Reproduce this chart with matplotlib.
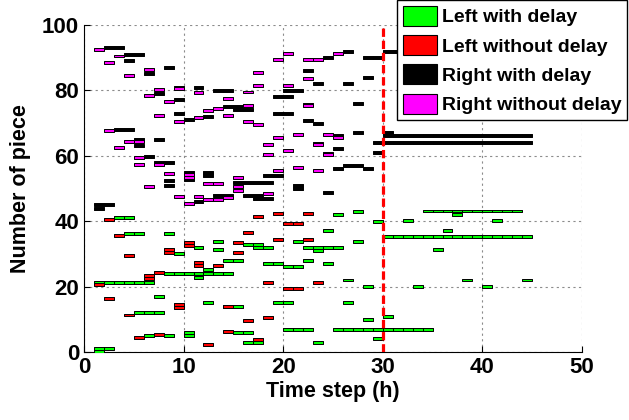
import matplotlib
matplotlib.use('Agg')
import matplotlib.pyplot as plt
from matplotlib.patches import Patch

plt.rcParams['font.family'] = ['Liberation Sans', 'DejaVu Sans']
plt.rcParams['font.weight'] = 'bold'

# each task: (start time, duration in steps, piece number)
left_delay = [
    (3, 2, 41.0), (4, 2, 36.1), (8, 1, 36.1), (25, 1, 41.9), (27, 1, 42.9), (29, 1, 40.0), (24, 1, 37.0),
    (11, 1, 32.0), (13, 1, 33.9), (13, 1, 31.2), (9, 1, 30.0), (12, 1, 25.1), (14, 2, 27.9), (8, 7, 24.1),
    (11, 1, 22.9), (1, 6, 21.2), (7, 1, 16.9), (12, 1, 15.0), (5, 3, 12.0), (6, 1, 4.9), (8, 1, 4.9),
    (10, 1, 6.0), (10, 1, 4.9), (1, 2, 1.1), (1, 1, 0.0),
    (16, 2, 33.0), (17, 2, 32.0), (21, 1, 33.9), (22, 4, 32.0), (23, 1, 31.0), (27, 1, 33.9), (18, 2, 27.0),
    (20, 2, 26.0), (22, 1, 27.9), (24, 1, 27.0), (26, 1, 22.0), (28, 1, 20.0), (19, 2, 15.0), (26, 1, 15.0),
    (14, 2, 14.0), (28, 1, 9.9), (15, 2, 6.0), (16, 2, 3.0), (20, 3, 6.9), (25, 10, 6.9), (23, 1, 3.0),
    (29, 1, 4.1),
    (34, 10, 43.1), (37, 1, 41.9), (32, 1, 40.1), (41, 1, 40.1), (36, 1, 37.0), (30, 15, 35.2), (35, 1, 31.2),
    (38, 1, 22.0), (44, 1, 22.0), (33, 1, 20.0), (40, 1, 20.0), (30, 1, 10.8),
]
left_nodelay = [
    (2, 1, 40.5), (17, 1, 41.4), (19, 1, 42.4), (22, 1, 42.4), (20, 2, 39.4), (16, 1, 36.4),
    (3, 1, 35.5), (10, 1, 33.4), (10, 1, 32.6), (4, 1, 29.5), (8, 1, 31.4), (8, 1, 30.5), (11, 1, 27.3),
    (11, 1, 26.5), (13, 1, 26.5), (7, 1, 24.4), (6, 1, 23.4), (6, 1, 22.4), (1, 1, 20.7), (2, 1, 16.4),
    (4, 1, 11.3), (9, 1, 14.5), (9, 1, 13.5), (14, 1, 13.9), (5, 1, 4.4), (7, 1, 5.4), (14, 1, 6.4),
    (12, 1, 2.4),
    (15, 1, 33.4), (19, 1, 34.5), (22, 1, 34.5), (15, 1, 30.5), (18, 1, 21.3), (23, 1, 21.3), (20, 2, 19.4),
    (16, 1, 9.5), (18, 1, 10.4), (17, 1, 3.7),
]
right_delay = [
    (2, 2, 93.2), (4, 2, 91.0), (4, 1, 89.1), (6, 1, 85.1), (8, 1, 86.9), (9, 1, 81.0), (11, 1, 81.0),
    (13, 2, 79.9), (7, 1, 79.0), (9, 1, 77.1), (9, 1, 73.0), (10, 1, 71.2), (12, 1, 72.0), (14, 2, 75.0),
    (3, 2, 68.1),
    (24, 1, 90.0), (26, 1, 92.0), (28, 2, 90.0), (22, 1, 86.0), (23, 1, 82.2), (26, 1, 82.2), (28, 1, 84.0),
    (20, 2, 79.9), (19, 2, 78.0), (15, 2, 74.0), (19, 2, 73.0), (22, 1, 75.8), (27, 1, 75.9), (22, 1, 70.9),
    (23, 1, 70.0), (30, 2, 92.0),
    (5, 1, 65.0), (7, 1, 65.0), (5, 1, 63.0), (6, 1, 59.9), (7, 2, 58.0), (8, 1, 52.4), (8, 1, 51.0),
    (10, 1, 54.8), (10, 1, 52.8), (12, 1, 54.8), (12, 1, 53.9), (11, 1, 46.0), (13, 2, 47.8), (1, 2, 45.0),
    (1, 1, 43.9),
    (25, 1, 66.1), (27, 1, 67.1), (23, 1, 63.9), (25, 1, 62.1), (29, 1, 64.0), (29, 1, 60.9), (24, 1, 60.8),
    (25, 1, 56.0), (26, 2, 56.9), (28, 1, 56.0), (18, 2, 54.0), (15, 4, 51.9), (21, 1, 51.0), (21, 1, 50.1),
    (24, 1, 48.8), (16, 2, 47.9), (17, 2, 47.0),
    (30, 1, 67.1), (30, 15, 66.2), (30, 15, 64.0),
]
right_nodelay = [
    (1, 1, 92.6), (3, 1, 90.5), (2, 1, 88.6), (4, 1, 84.5), (6, 1, 86.4), (7, 1, 80.4), (9, 1, 80.5),
    (11, 1, 79.4), (6, 1, 78.5), (8, 1, 76.5), (14, 1, 77.5), (7, 1, 72.3), (9, 1, 70.5), (11, 1, 71.6),
    (12, 1, 73.7), (13, 1, 74.5), (14, 1, 72.3),
    (20, 1, 91.3), (19, 1, 89.5), (22, 2, 89.5), (25, 1, 91.3), (17, 1, 85.5), (22, 1, 83.5), (17, 1, 81.5),
    (20, 1, 81.5), (16, 1, 79.5), (16, 1, 75.4), (16, 1, 70.5), (17, 1, 69.6), (22, 1, 75.5),
    (2, 1, 67.6), (4, 1, 64.5), (5, 1, 64.5), (3, 1, 62.5), (5, 1, 59.4), (5, 1, 57.4), (7, 1, 57.4),
    (8, 1, 54.5), (6, 1, 50.6), (10, 1, 54.4), (10, 1, 53.4), (12, 2, 51.5), (9, 1, 47.5), (10, 1, 45.4),
    (11, 1, 47.6), (12, 1, 46.5), (13, 1, 46.5), (14, 1, 47.3),
    (19, 1, 65.5), (21, 1, 66.6), (24, 1, 66.6), (25, 1, 65.6), (18, 1, 63.5), (23, 1, 63.5), (20, 1, 61.6),
    (18, 1, 60.5), (24, 1, 60.3), (21, 1, 56.5), (23, 1, 55.6), (19, 1, 55.6), (15, 1, 53.4), (15, 1, 50.5),
    (15, 1, 49.3), (18, 1, 48.4),
]

labels = ['Left with delay', 'Left without delay', 'Right with delay', 'Right without delay']
colors = ['#00ff00', '#ff0000', '#000000', '#ff00ff']
delay_time = 30

fig = plt.figure(figsize=(6.29, 4.20), dpi=100)
ax = fig.add_axes([0.1335, 0.162, 0.7917, 0.7786])

for tasks, c in zip([left_delay, left_nodelay, right_delay, right_nodelay], colors):
    for s, d, y in tasks:
        segs = [(s + k, 1) for k in range(d)]
        ax.broken_barh(segs, (y - 0.45, 0.9), facecolors=c, edgecolors='k', linewidths=0.7, zorder=3)

ax.axvline(delay_time, color='red', lw=2.3, ls=(0, (2.6, 1.2)), zorder=4)

ax.set_xlim(0, 50)
ax.set_ylim(0, 100)
ax.set_xticks(range(0, 51, 10))
ax.set_yticks(range(0, 101, 20))
ax.grid(True, color='0.55', ls=(0, (2, 3)), lw=0.8)
ax.set_axisbelow(True)
for side in ['top', 'right']:
    ax.spines[side].set_visible(False)
ax.tick_params(direction='in', length=4, labelsize=16)
ax.set_xlabel('Time step (h)', fontsize=15.5, fontweight='bold', labelpad=2)
ax.set_ylabel('Number of piece', fontsize=15.5, fontweight='bold', labelpad=8)

handles = [Patch(facecolor=c, edgecolor='k', lw=0.8) for c in colors]
leg = fig.legend(handles, labels, loc='upper left', bbox_to_anchor=(0.631, 1.0),
                 fontsize=14, handlelength=1.75, handleheight=1.2, handletextpad=0.25,
                 labelspacing=0.45, borderpad=0.3, borderaxespad=0, fancybox=False,
                 framealpha=1, edgecolor='k')
leg.get_frame().set_linewidth(1.0)
for t in leg.get_texts():
    t.set_fontweight('bold')

plt.savefig('out.png', dpi=100)
